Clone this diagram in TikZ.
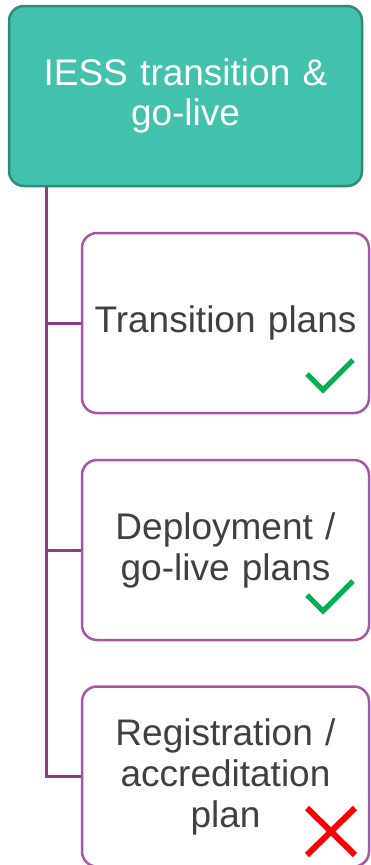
\documentclass[tikz,border=0pt]{standalone}
\usepackage{fontspec}
\setmainfont{Liberation Sans}
\usepackage{xcolor}
\usetikzlibrary{arrows.meta, positioning, calc}
\definecolor{headfill}{HTML}{42C1AC}
\definecolor{headline}{HTML}{2E8B7A}
\definecolor{trunkline}{HTML}{8E3D8E}
\definecolor{itemline}{HTML}{A855A8}
\definecolor{itemtext}{HTML}{404040}
\definecolor{tickgreen}{HTML}{00B050}
\definecolor{crossred}{HTML}{FF0000}
\begin{document}
\begin{tikzpicture}[x=1pt, y=-1pt,
        headbox/.style={draw=headline, line width=2.5pt, fill=headfill, rounded corners=15pt,
            minimum width=353pt, minimum height=180pt, text width=340pt, align=center,
            text=white, font=\fontsize{37}{40}\selectfont, inner sep=0pt},
        itembox/.style={draw=itemline, line width=2.5pt, fill=white, rounded corners=15pt,
            minimum width=287pt, minimum height=180pt, text width=275pt, align=center,
            text=itemtext, font=\fontsize{37}{41}\selectfont, inner sep=0pt},
        branch/.style={draw=trunkline, line width=3pt},
        tick/.style={draw=tickgreen, line width=5pt},
        cross/.style={draw=crossred, line width=6pt}]
        \useasboundingbox (0,0) rectangle (370,865);
        % header and the three work items
        \node[headbox] (head) at (185.5,96) {IESS transition \&\\go-live};
        \node[itembox] (plans) at (225.5,323) {Transition plans};
        \node[itembox] (golive) at (225.5,550) {Deployment /\\go-live plans};
        \node[itembox] (accred) at (225.5,776.5) {Registration /\\accreditation\\plan};
        % tree connectors
        \coordinate (trunk) at (46,0 |- head.south);
        \draw[branch] (trunk) |- (accred.west);
        \draw[branch] (trunk |- plans.west) -- (plans.west);
        \draw[branch] (trunk |- golive.west) -- (golive.west);
        % status marks
        \draw[tick] (307,374) -- (323,390) -- (353,360);
        \draw[tick] (307,595) -- (323,611) -- (353,581);
        \draw[cross] (307,808) -- (355,855) (355,808) -- (307,855);
    \end{tikzpicture}
\end{document}
